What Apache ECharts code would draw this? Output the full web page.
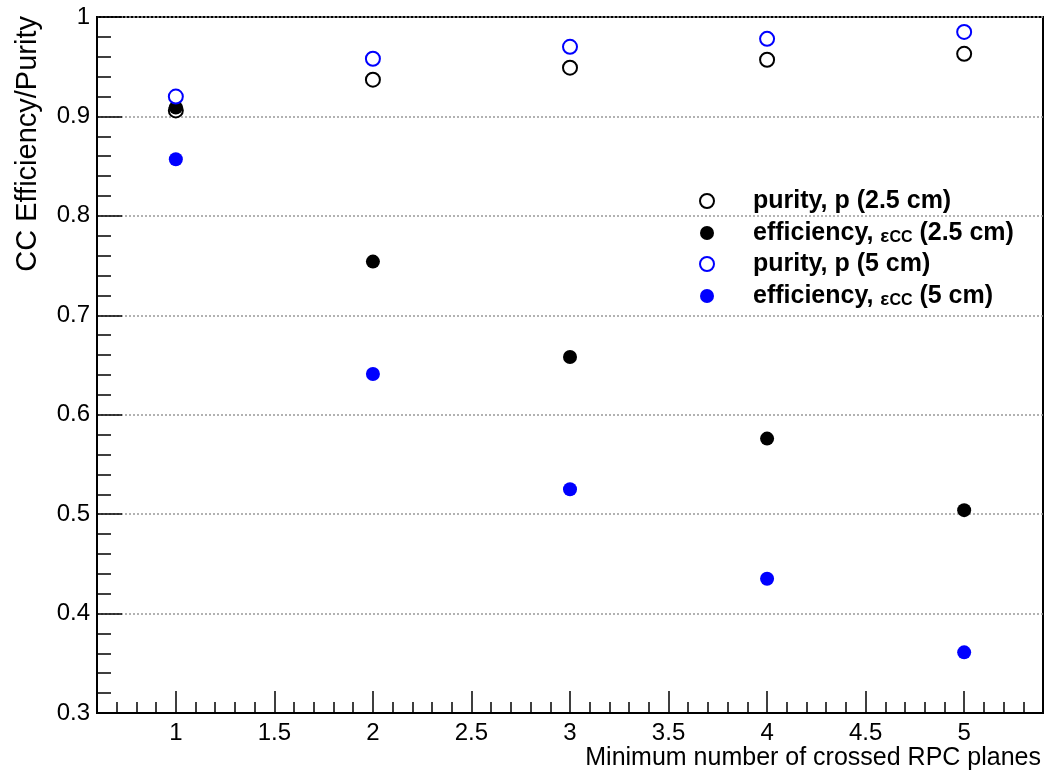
<!DOCTYPE html>
<html>
<head>
<meta charset="utf-8">
<script src="https://cdn.jsdelivr.net/npm/echarts@6/dist/echarts.min.js"></script>
<style>html,body{margin:0;padding:0;background:#fff}#c{width:1046px;height:775px}</style>
</head>
<body>
<div id="c"></div>
<script>
const xValues = [1, 2, 3, 4, 5];
const purity25 = [0.906, 0.937, 0.949, 0.957, 0.963];
const eff25 = [0.909, 0.754, 0.658, 0.576, 0.504];
const purity5 = [0.920, 0.958, 0.970, 0.978, 0.985];
const eff5 = [0.857, 0.641, 0.525, 0.435, 0.361];
const xMajorTicks = [1, 1.5, 2, 2.5, 3, 3.5, 4, 4.5, 5];
const seriesNames = ['purity, p (2.5 cm)', 'efficiency, εCC (2.5 cm)', 'purity, p (5 cm)', 'efficiency, εCC (5 cm)'];
const xTitle = 'Minimum number of crossed RPC planes';
const yTitle = 'CC Efficiency/Purity';

const FONT = '"Liberation Sans", Arial, Helvetica, sans-serif';
const pts = arr => xValues.map((x, i) => [x, arr[i]]);

const chart = echarts.init(document.getElementById('c'), null, {renderer: 'canvas'});
const legendRich = {
  a: {fontFamily: FONT, fontSize: 25, fontWeight: 'bold', color: '#000', lineHeight: 26},
  e: {fontFamily: FONT, fontSize: 19, fontWeight: 'bold', color: '#000', lineHeight: 26, verticalAlign: 'bottom', padding: [4, 0, 0, 0]},
  s: {fontFamily: FONT, fontSize: 16, fontWeight: 'bold', color: '#000', lineHeight: 26, verticalAlign: 'bottom', padding: [11, 0, 0, 0]}
};
function legendFmt(name) {
  if (name.indexOf('εCC') >= 0) {
    const parts = name.split('εCC');
    return '{a|' + parts[0] + '}{e|ε}{s|CC}{a|' + parts[1] + '}';
  }
  return '{a|' + name + '}';
}
chart.setOption({
  animation: false,
  backgroundColor: '#fff',
  grid: {left: 97, right: 3, top: 17, bottom: 62, show: true, borderColor: '#000', borderWidth: 2, backgroundColor: 'transparent'},
  legend: {
    data: seriesNames,
    orient: 'vertical', left: 699, top: 188, padding: 0,
    itemWidth: 82, itemHeight: 14, itemGap: 5,
    formatter: legendFmt,
    textStyle: {rich: legendRich, lineHeight: 26}
  },
  xAxis: [
    {
      type: 'value', min: 0.6, max: 5.4, interval: 0.1, position: 'bottom',
      axisLine: {show: true, lineStyle: {color: '#000', width: 2}},
      axisTick: {show: true, inside: true, length: 11, lineStyle: {color: '#000', width: 1.5}},
      axisLabel: {show: false},
      splitLine: {show: false}
    },
    {
      type: 'value', min: 0.6, max: 5.4, position: 'bottom',
      axisLine: {show: false},
      axisTick: {show: true, inside: true, length: 22, customValues: xMajorTicks, lineStyle: {color: '#000', width: 1.5}},
      axisLabel: {show: true, customValues: xMajorTicks, margin: 8, fontFamily: FONT, fontSize: 24, color: '#000'},
      splitLine: {show: false},
      name: xTitle, nameLocation: 'end', nameGap: -2,
      nameTextStyle: {fontFamily: FONT, fontSize: 25, color: '#000', align: 'right', verticalAlign: 'top', padding: [33, 0, 0, 0]}
    }
  ],
  yAxis: {
    type: 'value', min: 0.3, max: 1, interval: 0.1,
    axisLine: {show: true, lineStyle: {color: '#000', width: 2}},
    axisTick: {show: true, inside: true, length: 25, lineStyle: {color: '#000', width: 1.5}},
    minorTick: {show: true, splitNumber: 5, length: 14, lineStyle: {color: '#000', width: 1.5}},
    axisLabel: {margin: 7, fontFamily: FONT, fontSize: 24, color: '#000', formatter: v => String(Math.round(v * 10) / 10)},
    splitLine: {show: true, lineStyle: {color: '#999', type: [2, 2], width: 1.5}}
  },
  graphic: [{
    type: 'text', x: 28, y: 16, rotation: Math.PI / 2,
    style: {text: yTitle, fontFamily: FONT, fontSize: 29, fill: '#000', align: 'right', verticalAlign: 'middle'}
  }],
  series: [
    {name: seriesNames[0], type: 'scatter', xAxisIndex: 0, symbol: 'emptyCircle', symbolSize: 14, data: pts(purity25),
     itemStyle: {color: '#000', borderColor: '#000', borderWidth: 2, opacity: 1}},
    {name: seriesNames[1], type: 'scatter', xAxisIndex: 0, symbol: 'circle', symbolSize: 14, data: pts(eff25),
     itemStyle: {color: '#000', opacity: 1}},
    {name: seriesNames[2], type: 'scatter', xAxisIndex: 0, symbol: 'emptyCircle', symbolSize: 14, data: pts(purity5),
     itemStyle: {color: '#0000ff', borderColor: '#0000ff', borderWidth: 2, opacity: 1}},
    {name: seriesNames[3], type: 'scatter', xAxisIndex: 0, symbol: 'circle', symbolSize: 14, data: pts(eff5),
     itemStyle: {color: '#0000ff', opacity: 1}}
  ]
});
</script>
</body>
</html>
